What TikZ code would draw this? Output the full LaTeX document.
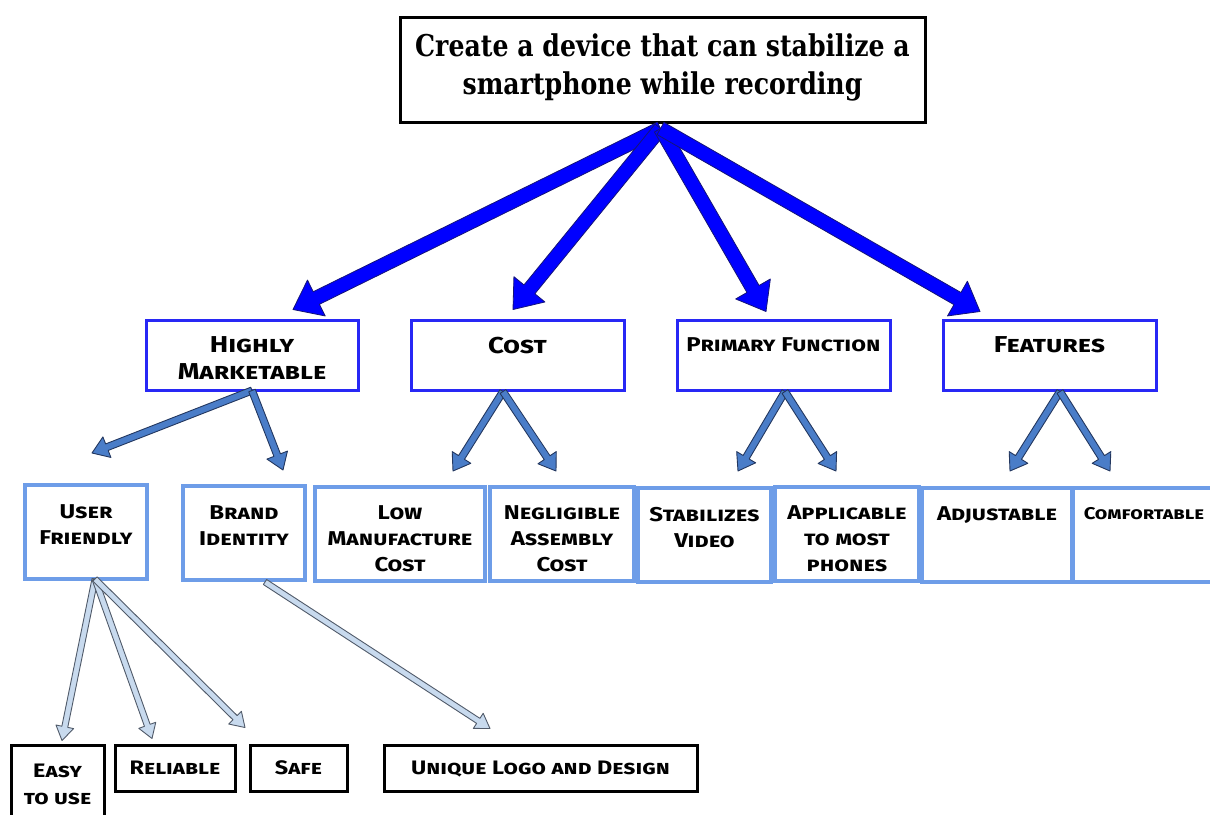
\documentclass[tikz,border=0pt]{standalone}
\usepackage{fontspec}
\usetikzlibrary{calc}
\newfontfamily\titlefont{DejaVu Serif}[FakeStretch=0.84]
\newfontfamily\handfont{Fira Sans}[FakeStretch=1.2]

\definecolor{lvtwo}{RGB}{40,40,245}
\definecolor{lvthree}{RGB}{110,157,232}
\definecolor{bigfill}{RGB}{0,0,255}
\definecolor{bigedge}{RGB}{20,20,120}
\definecolor{midfill}{RGB}{74,125,200}
\definecolor{midedge}{RGB}{35,55,95}
\definecolor{thinfill}{RGB}{200,218,238}
\definecolor{thinedge}{RGB}{80,90,105}

% text box: width, height, top padding, content (top aligned, centred)
\newcommand\inbox[4]{\parbox[c][#2pt][t]{#1pt}{\centering\vspace*{#3pt}#4}}

% block arrow: style, from, to, shaft half width, head half width, head length
\newcommand\blockarrow[6]{%
  \coordinate (ba-h) at ($(#3)!#6!(#2)$);
  \path[#1] ($(#2)!#4!90:(#3)$) -- ($(ba-h)!#4!90:(#3)$) -- ($(ba-h)!#5!90:(#3)$)
    -- (#3) -- ($(ba-h)!#5!-90:(#3)$) -- ($(ba-h)!#4!-90:(#3)$)
    -- ($(#2)!#4!-90:(#3)$) -- cycle;
}

\begin{document}
\begin{tikzpicture}[x=1pt,y=-1pt,
  goalbox/.style={draw=black, line width=3pt, fill=white, inner sep=0pt},
  twobox/.style={draw=lvtwo, line width=3pt, fill=white, inner sep=0pt},
  threebox/.style={draw=lvthree, line width=4pt, fill=white, inner sep=0pt},
  fourbox/.style={draw=black, line width=3pt, fill=white, inner sep=0pt},
  bigarrow/.style={fill=bigfill, draw=bigedge, line width=0.8pt, line join=round},
  midarrow/.style={fill=midfill, draw=midedge, line width=0.9pt, line join=round},
  thinarrow/.style={fill=thinfill, draw=thinedge, line width=0.9pt, line join=round},
  titletext/.style={font=\titlefont\bfseries\fontsize{30}{38}\selectfont},
  handtwo/.style={font=\handfont\bfseries\scshape\fontsize{23}{27}\selectfont},
  handthree/.style={font=\handfont\bfseries\scshape\fontsize{20}{26}\selectfont},
  handfour/.style={font=\handfont\bfseries\scshape\fontsize{19.5}{27}\selectfont}]

\useasboundingbox (0,0) rectangle (1210,814);
\clip (0,0) rectangle (1210,814);

% ---------- nodes ----------
\node[goalbox, titletext] (goal) at (662.5,69.5)
  {\inbox{525}{105}{17}{Create a device that can stabilize a\\ smartphone while recording}};

\node[twobox, handtwo] (hm)   at (252,355)    {\inbox{212}{70}{17}{Highly\\ Marketable}};
\node[twobox, handtwo] (cost) at (517.5,355)  {\inbox{213}{70}{17}{Cost}};
\node[twobox, handtwo] (pf)   at (783.5,355)  {\inbox{213}{70}{18}{\mbox{\fontsize{20}{27}\selectfont Primary Function}}};
\node[twobox, handtwo] (feat) at (1049.5,355) {\inbox{213}{70}{17}{Features}};

\node[threebox, handthree] (uf)  at (86,532)    {\inbox{122}{94}{20}{User\\ Friendly}};
\node[threebox, handthree] (bi)  at (244,533)   {\inbox{122}{94}{20}{Brand\\ Identity}};
\node[threebox, handthree] (lmc) at (400,534)   {\inbox{170}{94}{19}{Low\\ Manufacture\\ Cost}};
\node[threebox, handthree] (nac) at (562,534)   {\inbox{144}{94}{19}{Negligible\\ Assembly\\ Cost}};
\node[threebox, handthree] (sv)  at (704.5,535) {\inbox{133}{94}{19}{Stabilizes\\ Video}};
\node[threebox, handthree] (ap)  at (847,534)   {\inbox{144}{94}{19}{Applicable\\ to most\\ phones}};
\node[threebox, handthree] (adj) at (997,535)   {\inbox{150}{94}{19}{Adjustable}};
\node[threebox, handthree] (com) at (1144,535)  {\inbox{142}{94}{19}{\fontsize{17}{26}\selectfont Comfortable}};

\node[fourbox, handfour] (easy) at (57.5,787.5) {\inbox{93}{85}{19}{Easy\\ to use}};
\node[fourbox, handfour] (rel)  at (175,768)    {\inbox{120}{46}{16}{Reliable}};
\node[fourbox, handfour] (safe) at (298.5,768)  {\inbox{97}{46}{16}{Safe}};
\node[fourbox, handfour] (uld)  at (540.5,768)  {\inbox{313}{46}{16}{Unique Logo and Design}};

% ---------- arrow end points ----------
\coordinate (apex) at ($(goal.south)+(-2,5)$);
\coordinate (hm-in)   at ($(hm.north)+(41,-9)$);
\coordinate (cost-in) at ($(cost.north)+(-4.5,-9)$);
\coordinate (pf-in)   at ($(pf.north)+(-17.5,-7)$);
\coordinate (feat-in) at ($(feat.north)+(-69.5,-7)$);

\coordinate (hm-out)   at ($(hm.south)+(0,-1)$);
\coordinate (cost-out) at ($(cost.south)+(-14.5,0)$);
\coordinate (pf-out)   at ($(pf.south)+(1.5,0)$);
\coordinate (feat-out) at ($(feat.south)+(10.5,0)$);

\coordinate (uf-in)  at ($(uf.north)+(6,-30)$);
\coordinate (bi-in)  at ($(bi.north)+(39,-14)$);
\coordinate (lmc-in) at ($(lmc.north)+(53,-14)$);
\coordinate (nac-in) at ($(nac.north)+(-6,-14)$);
\coordinate (sv-in)  at ($(sv.north)+(33.5,-15)$);
\coordinate (ap-in)  at ($(ap.north)+(-11,-14)$);
\coordinate (adj-in) at ($(adj.north)+(13,-15)$);
\coordinate (com-in) at ($(com.north)+(-34,-15)$);

\coordinate (uf-out) at ($(uf.south)+(9,-2)$);
\coordinate (bi-out) at ($(bi.south)+(21,0)$);
\coordinate (easy-in) at ($(easy.north)+(4.5,-3)$);
\coordinate (rel-in)  at ($(rel.north)+(-23,-5)$);
\coordinate (safe-in) at ($(safe.north)+(-53.5,-16)$);
\coordinate (uld-in)  at ($(uld.north)+(-50.5,-15)$);

% ---------- connectors ----------
\blockarrow{bigarrow}{apex}{hm-in}{7pt}{20pt}{26pt}
\blockarrow{bigarrow}{apex}{cost-in}{7pt}{20pt}{26pt}
\blockarrow{bigarrow}{apex}{pf-in}{7pt}{20pt}{26pt}
\blockarrow{bigarrow}{apex}{feat-in}{7pt}{20pt}{26pt}

\blockarrow{midarrow}{hm-out}{uf-in}{3.5pt}{11pt}{16pt}
\blockarrow{midarrow}{hm-out}{bi-in}{3.5pt}{11pt}{16pt}
\blockarrow{midarrow}{cost-out}{lmc-in}{3.5pt}{11pt}{16pt}
\blockarrow{midarrow}{cost-out}{nac-in}{3.5pt}{11pt}{16pt}
\blockarrow{midarrow}{pf-out}{sv-in}{3.5pt}{11pt}{16pt}
\blockarrow{midarrow}{pf-out}{ap-in}{3.5pt}{11pt}{16pt}
\blockarrow{midarrow}{feat-out}{adj-in}{3.5pt}{11pt}{16pt}
\blockarrow{midarrow}{feat-out}{com-in}{3.5pt}{11pt}{16pt}

\blockarrow{thinarrow}{uf-out}{easy-in}{3pt}{9pt}{14pt}
\blockarrow{thinarrow}{uf-out}{rel-in}{3pt}{9pt}{14pt}
\blockarrow{thinarrow}{uf-out}{safe-in}{3pt}{9pt}{14pt}
\blockarrow{thinarrow}{bi-out}{uld-in}{3pt}{9pt}{14pt}
\end{tikzpicture}
\end{document}
